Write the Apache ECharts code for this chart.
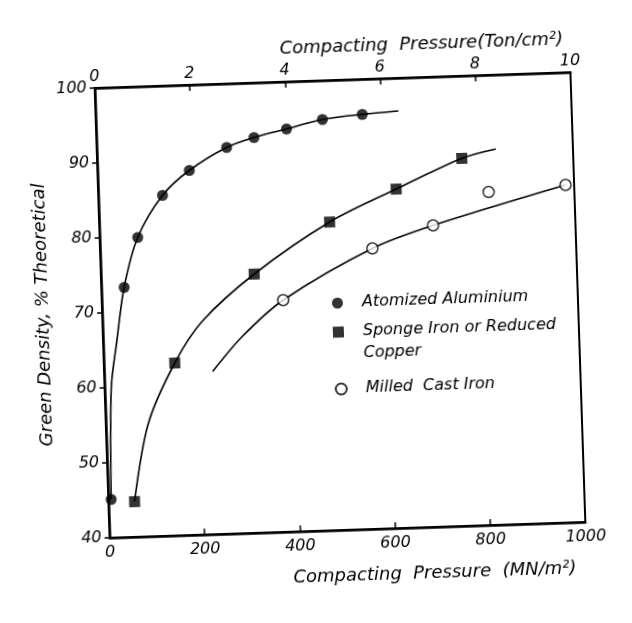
<!DOCTYPE html>
<html>
<head>
<meta charset="utf-8">
<title>Green density vs compacting pressure</title>
<script src="https://cdn.jsdelivr.net/npm/echarts@6/dist/echarts.min.js"></script>
<style>
  html, body { margin: 0; padding: 0; background: #fff; }
  /* the scanned figure is slightly tilted, so is the chart */
  #chart { width: 632px; height: 623px; transform: rotate(-1.9deg); transform-origin: 340px 305px; }
</style>
</head>
<body>
<div id="chart"></div>
<script>
// axis ticks
var yTicks = [40, 50, 60, 70, 80, 90, 100];
var mnTicks = [0, 200, 400, 600, 800, 1000];
var tonTicks = [0, 2, 4, 6, 8, 10];

// Atomized Aluminium (filled circles), pressure MN/m2 -> % theoretical
var alumP = [6, 48, 80, 135, 193, 273, 331, 400, 476, 560];
var alumD = [45.1, 73.3, 79.9, 85.4, 88.6, 91.5, 92.7, 93.7, 94.8, 95.3];
// drawn curve
var alumCurveP = [6, 14, 29, 48, 80, 135, 193, 273, 331, 400, 476, 560, 636];
var alumCurveD = [45.1, 60, 66.2, 73.3, 79.9, 85.4, 88.6, 91.5, 92.7, 93.7, 94.8, 95.3, 95.6];

// Sponge Iron or Reduced Copper (filled squares)
var spongeP = [55, 149, 322, 484, 626, 766];
var spongeD = [44.7, 63.0, 74.5, 81.1, 85.2, 89.0];
var spongeCurveP = [55, 89, 149, 209, 322, 484, 626, 766, 838];
var spongeCurveD = [44.7, 55, 63.0, 68.4, 74.5, 81.1, 85.2, 89.0, 90.1];

// Milled Cast Iron (open circles)
var castP = [381, 572, 701, 820, 982];
var castD = [70.9, 77.4, 80.2, 84.4, 85.0];
var castCurveP = [228, 292, 381, 572, 701, 982];
var castCurveD = [61.7, 66.2, 70.9, 77.4, 80.2, 85.0];

var names = ['Atomized Aluminium', 'Sponge Iron or Reduced\nCopper', 'Milled  Cast Iron'];

function pairs(xs, ys) {
  var out = [];
  xs.forEach(function (x, i) { out.push([x, ys[i]]); });
  return out;
}

var font = 'DejaVu Sans';
var txt = { fontFamily: font, fontStyle: 'italic', fontSize: 16, color: '#000' };
var titleTxt = Object.assign({}, txt, { fontSize: 18 });

function legendAt(name, top) {
  return {
    data: [name], orient: 'vertical', left: 332, top: top, padding: 0,
    itemWidth: 11, itemHeight: 11, selectedMode: false,
    textStyle: Object.assign({}, txt, { lineHeight: 22, padding: [0, 0, 0, 14] })
  };
}

function curve(xs, ys) {
  return { type: 'line', data: pairs(xs, ys), smooth: 0.3, symbol: 'none',
    lineStyle: { color: '#000', width: 1.6 }, silent: true };
}

var myChart = echarts.init(document.getElementById('chart'), null, { renderer: 'canvas' });

var sponge = legendAt(names[1], 299);
// empty first line so the square sits next to the first text line
sponge.formatter = function (name) { return '\n' + name; };

var option = {
  backgroundColor: '#fff',
  animation: false,
  grid: {
    left: 102, right: 54, top: 80, bottom: 93,
    show: true, borderColor: '#000', borderWidth: 2
  },
  legend: [
    legendAt(names[0], 292),
    sponge,
    legendAt(names[2], 378)
  ],
  xAxis: [
    {
      type: 'value', position: 'bottom', min: mnTicks[0], max: mnTicks[mnTicks.length - 1], interval: 200,
      name: 'Compacting  Pressure  (MN/m²)', nameLocation: 'middle', nameGap: 37,
      nameTextStyle: Object.assign({}, titleTxt, { padding: [0, 0, 0, 172] }),
      axisLine: { lineStyle: { color: '#000', width: 2.5 } },
      axisTick: { inside: true, length: 6, lineStyle: { color: '#000', width: 1.5 } },
      axisLabel: Object.assign({}, txt, { margin: 7, formatter: function (v) { return String(v); } }),
      splitLine: { show: false }
    },
    {
      type: 'value', position: 'top', min: tonTicks[0], max: tonTicks[tonTicks.length - 1], interval: 2,
      name: 'Compacting  Pressure(Ton/cm²)', nameLocation: 'middle', nameGap: 24,
      nameTextStyle: Object.assign({}, titleTxt, { padding: [0, 0, 0, 180] }),
      axisLine: { lineStyle: { color: '#000', width: 2.5 } },
      axisTick: { inside: true, length: 6, lineStyle: { color: '#000', width: 1.5 } },
      axisLabel: Object.assign({}, txt, { margin: 3 }),
      splitLine: { show: false }
    }
  ],
  yAxis: {
    type: 'value', min: yTicks[0], max: yTicks[yTicks.length - 1], interval: 10,
    name: 'Green Density, % Theoretical', nameLocation: 'middle', nameGap: 40,
    nameTextStyle: titleTxt,
    axisLine: { lineStyle: { color: '#000', width: 2.5 } },
    axisTick: { length: 5, lineStyle: { color: '#000', width: 1.5 } },
    axisLabel: Object.assign({}, txt, { margin: 8 }),
    splitLine: { show: false }
  },
  series: [
    // fitted curves
    curve(alumCurveP, alumCurveD),
    curve(spongeCurveP, spongeCurveD),
    curve(castCurveP, castCurveD),
    // measured points
    { name: names[0], type: 'scatter', data: pairs(alumP, alumD), symbol: 'circle', symbolSize: 11,
      itemStyle: { color: '#000' }, z: 5 },
    { name: names[1], type: 'scatter', data: pairs(spongeP, spongeD), symbol: 'rect', symbolSize: 11,
      itemStyle: { color: '#000' }, z: 5 },
    { name: names[2], type: 'scatter', data: pairs(castP, castD), symbol: 'circle', symbolSize: 11,
      itemStyle: { color: '#fff', borderColor: '#000', borderWidth: 1.5 }, z: 5 }
  ]
};

myChart.setOption(option);
</script>
</body>
</html>
